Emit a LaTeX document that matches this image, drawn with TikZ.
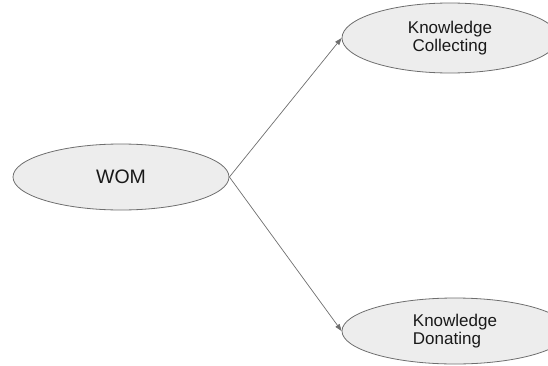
\documentclass[tikz,border=0pt]{standalone}
\usepackage{fontspec}
\setmainfont{Liberation Sans}
\usepackage{tikz}
\usetikzlibrary{positioning, shapes.geometric, arrows.meta}
\definecolor{bulle}{HTML}{EDEDED}
\definecolor{trait}{HTML}{6E6E6E}
\tikzstyle{bloc}=[ellipse, draw=trait, fill=bulle, line width=0.8pt, inner sep=0pt, text=black!90, font=\fontsize{17}{18.5}\selectfont]
\tikzstyle{fleche}=[draw=trait, line width=0.7pt, -{Triangle[length=7pt,width=5pt]}]

\begin{document}
\begin{tikzpicture}[x=1pt, y=1pt]
        \useasboundingbox (0,0) rectangle (548,365);
        % Les ellipses
        \node[bloc, minimum width=216pt, minimum height=66pt, font=\fontsize{19.5}{22}\selectfont] (wom) at (121,188) {WOM};
        \node[bloc, align=center, minimum width=216pt, minimum height=70pt] (kc) at (450,327) {Knowledge\\Collecting};
        \node[bloc, align=left, minimum width=226pt, minimum height=66pt] (kd) at (455,34) {Knowledge\\Donating};

        % Les flèches
        \draw[fleche] (wom.east) -- (kc.west);
        \draw[fleche] (wom.east) -- (kd.west);
    \end{tikzpicture}
\end{document}
